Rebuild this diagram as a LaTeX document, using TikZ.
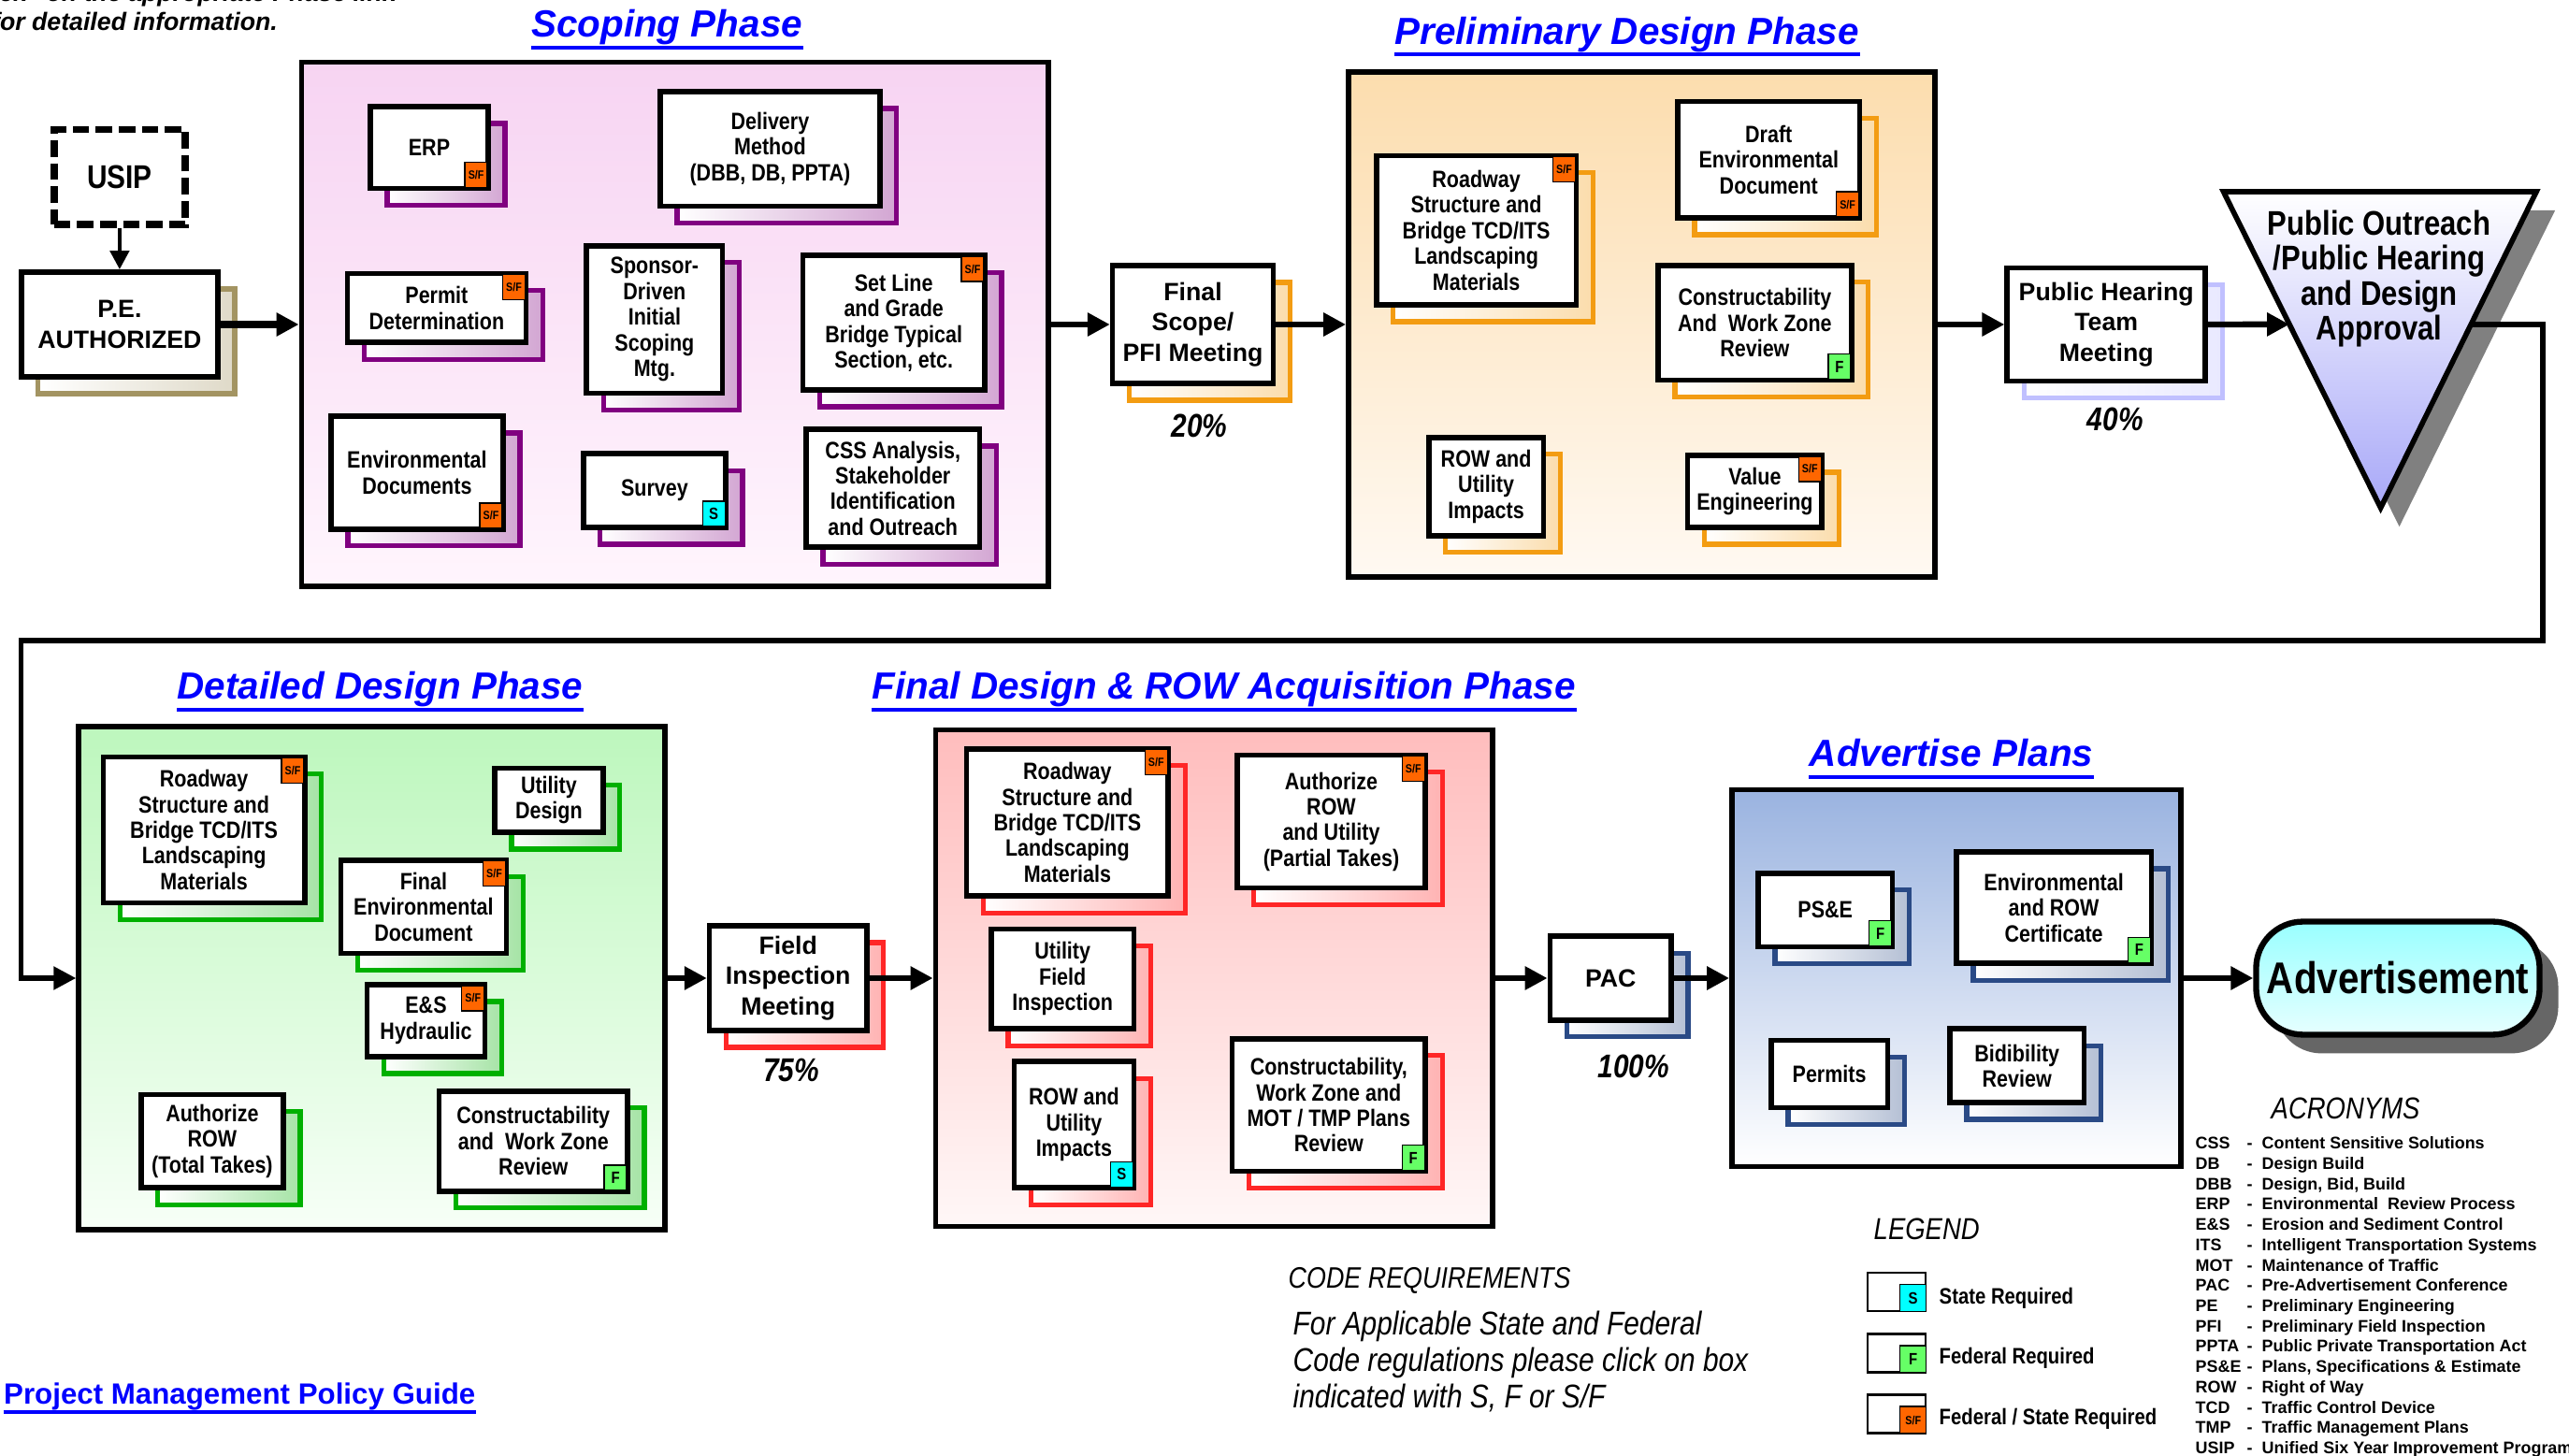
\documentclass[tikz,border=0pt]{standalone}
\usepackage{fontspec}
\setmainfont{Liberation Sans}
\newfontfamily\narrowfont{Liberation Sans}[FakeStretch=0.85]
\usetikzlibrary{arrows.meta,shadows,calc}

\definecolor{linkblue}{HTML}{0000FF}
\definecolor{sfcol}{HTML}{FF6600}
\definecolor{scol}{HTML}{00FFFF}
\definecolor{fcol}{HTML}{66FF66}
\definecolor{scopeshd}{HTML}{800080}
\definecolor{prelimshd}{HTML}{F39C12}
\definecolor{detailshd}{HTML}{00B000}
\definecolor{finalshd}{HTML}{FF2626}
\definecolor{advshd}{HTML}{2A4A86}
\definecolor{peshd}{HTML}{A39462}
\definecolor{hearshd}{HTML}{C0C0FF}
\definecolor{scopetop}{HTML}{F7D4F2}
\definecolor{scopebot}{HTML}{FFF5FD}
\definecolor{prelimtop}{HTML}{FCDDAE}
\definecolor{prelimbot}{HTML}{FFF9F2}
\definecolor{detailtop}{HTML}{BDF7BD}
\definecolor{detailbot}{HTML}{F7FFF7}
\definecolor{finaltop}{HTML}{FFBDBD}
\definecolor{finalbot}{HTML}{FFF7F7}
\definecolor{advtop}{HTML}{9AB3E0}
\definecolor{advbot}{HTML}{FFFFFF}
\definecolor{trilow}{HTML}{A8A8F8}
\definecolor{termtop}{HTML}{99FFFF}
\definecolor{termbot}{HTML}{E6FFFF}

\tikzset{
  task/.style={draw, line width=1.6pt, fill=white, align=center, inner sep=1pt,
    font=\narrowfont\bfseries\fontsize{7.2}{7.8}\selectfont,
    general shadow={shadow xshift=0.18cm, shadow yshift=-0.18cm, draw=#1,
      line width=1.5pt, left color=white, right color=#1!35}},
  stage/.style={task=#1, font=\bfseries\fontsize{7.6}{9.2}\selectfont},
  phase/.style 2 args={draw, line width=1.6pt, inner sep=0pt, top color=#1, bottom color=#2},
  phasetitle/.style={inner sep=0pt, anchor=base, text depth=0.1cm, text=linkblue,
    font=\bfseries\itshape\fontsize{11.5}{12}\selectfont},
  badge/.style={draw, line width=0.4pt, fill=#1, inner sep=0pt, minimum width=0.24cm,
    minimum height=0.27cm, font=\narrowfont\bfseries\fontsize{5}{5}\selectfont},
  sfbadge/.style={badge=sfcol, font=\narrowfont\bfseries\fontsize{3.6}{3.6}\selectfont},
  tucked ne/.style={anchor=north east, xshift=-0.03cm, yshift=-0.03cm},
  tucked se/.style={anchor=south east, xshift=-0.03cm, yshift=0.03cm},
  flow/.style={line width=1.8pt, -{Triangle[length=0.24cm, width=0.24cm]}},
  pct/.style={font=\narrowfont\bfseries\itshape\fontsize{10}{10}\selectfont},
  legendbox/.style={draw, line width=0.8pt, fill=white, inner sep=0pt,
    minimum width=0.62cm, minimum height=0.41cm},
  legendtext/.style={anchor=west, inner sep=0pt, font=\narrowfont\bfseries\fontsize{6.8}{7}\selectfont},
  heading/.style={inner sep=0pt, anchor=base west, font=\narrowfont\itshape\fontsize{9.2}{9.2}\selectfont},
}

\begin{document}
\begin{tikzpicture}[y=-1cm]
\useasboundingbox (0,0) rectangle (27.47,15.57);

% header note
\node[inner sep=0pt, anchor=south, align=center, font=\bfseries\itshape\fontsize{7.6}{8.8}\selectfont]
  (note) at (1.44,0.33) {Please ``click'' on the appropriate Phase link\\for detailed information.};

% phase boxes
\node[phase={scopetop}{scopebot}, minimum width=7.989cm, minimum height=5.606cm] (scoping) at (7.218,3.47) {};
\node[phase={prelimtop}{prelimbot}, minimum width=6.272cm, minimum height=5.396cm] (prelim) at (17.555,3.47) {};
\node[phase={detailtop}{detailbot}, minimum width=6.272cm, minimum height=5.379cm] (detailed) at (3.977,10.46) {};
\node[phase={finaltop}{finalbot}, minimum width=5.957cm, minimum height=5.309cm] (finaldes) at (12.982,10.46) {};
\node[phase={advtop}{advbot}, minimum width=4.8cm, minimum height=4.029cm] (advert) at (20.919,10.46) {};

\node[phasetitle] (scopetitle) at (7.131,0.40) {Scoping Phase};
\node[phasetitle] (prelimtitle) at (17.397,0.473) {Preliminary Design Phase};
\node[phasetitle] (detailtitle) at (4.065,7.48) {Detailed Design Phase};
\node[phasetitle] (finaltitle) at (13.087,7.48) {Final Design \& ROW Acquisition Phase};
\node[phasetitle] (advtitle) at (20.866,8.20) {Advertise Plans};

% start
\node[draw, line width=2.2pt, dash pattern=on 5pt off 2pt, fill=white, minimum width=1.402cm,
  minimum height=1.016cm, font=\narrowfont\bfseries\fontsize{10}{10}\selectfont] (usip) at (1.279,1.892) {USIP};
\node[stage=peshd, minimum width=2.102cm, minimum height=1.121cm] (pe) at (1.279,3.47) {P.E.\\AUTHORIZED};

% scoping phase
\node[task=scopeshd, minimum width=1.261cm, minimum height=0.876cm] (erp) at (4.590,1.577) {ERP};
\node[sfbadge, tucked se] (erpb) at (erp.south east) {S/F};
\node[task=scopeshd, minimum width=2.348cm, minimum height=1.226cm] (delivery) at (8.234,1.594) {Delivery\\Method\\(DBB, DB, PPTA)};
\node[task=scopeshd, minimum width=1.910cm, minimum height=0.736cm] (permit) at (4.669,3.294) {Permit\\Determination};
\node[sfbadge, tucked ne] (permitb) at (permit.north east) {S/F};
\node[task=scopeshd, minimum width=1.454cm, minimum height=1.577cm] (sponsor) at (6.999,3.416) {Sponsor-\\Driven\\Initial\\Scoping\\Mtg.};
\node[task=scopeshd, minimum width=1.945cm, minimum height=1.437cm] (setline) at (9.557,3.451) {Set Line\\and Grade\\Bridge Typical\\Section, etc.};
\node[sfbadge, tucked ne] (setlineb) at (setline.north east) {S/F};
\node[task=scopeshd, minimum width=1.840cm, minimum height=1.209cm] (envdocs) at (4.459,5.054) {Environmental\\Documents};
\node[sfbadge, tucked se] (envdocsb) at (envdocs.south east) {S/F};
\node[task=scopeshd, minimum width=1.524cm, minimum height=0.788cm] (survey) at (6.999,5.247) {Survey};
\node[badge=scol, tucked se] (surveyb) at (survey.south east) {S};
\node[task=scopeshd, minimum width=1.857cm, minimum height=1.262cm] (css) at (9.548,5.221) {CSS Analysis,\\Stakeholder\\Identification\\and Outreach};

\node[stage=prelimshd, minimum width=1.717cm, minimum height=1.261cm] (finalscope) at (12.755,3.47) {Final\\Scope/\\PFI Meeting};
\node[pct] (pct20) at (12.825,4.555) {20\%};

% preliminary design phase
\node[task=prelimshd, minimum width=2.137cm, minimum height=1.595cm] (roadway1) at (15.786,2.462) {Roadway\\Structure and\\Bridge TCD/ITS\\Landscaping\\Materials};
\node[sfbadge, tucked ne] (roadway1b) at (roadway1.north east) {S/F};
\node[task=prelimshd, minimum width=1.945cm, minimum height=1.244cm] (draftenv) at (18.913,1.708) {Draft\\Environmental\\Document};
\node[sfbadge, tucked se] (draftenvb) at (draftenv.south east) {S/F};
\node[task=prelimshd, minimum width=2.068cm, minimum height=1.227cm] (constr1) at (18.764,3.451) {Constructability\\And~ Work Zone\\Review};
\node[badge=fcol, tucked se] (constr1b) at (constr1.south east) {F};
\node[task=prelimshd, minimum width=1.227cm, minimum height=1.051cm] (rowimp1) at (15.891,5.203) {ROW and\\Utility\\Impacts};
\node[task=prelimshd, minimum width=1.436cm, minimum height=0.770cm] (valueeng) at (18.764,5.256) {Value\\Engineering};
\node[sfbadge, tucked ne] (valueengb) at (valueeng.north east) {S/F};

\node[stage=hearshd, minimum width=2.120cm, minimum height=1.209cm] (hearing) at (22.522,3.47) {Public Hearing\\Team\\Meeting};
\node[pct] (pct40) at (22.618,4.485) {40\%};

% approval triangle
\coordinate (tritl) at (23.775,2.05);
\coordinate (tritr) at (27.121,2.05);
\coordinate (triapex) at (25.456,5.431);
\fill[black!50] ([shift={(0.2,0.2)}]tritl) -- ([shift={(0.2,0.2)}]tritr) -- ([shift={(0.2,0.2)}]triapex) -- cycle;
\path[draw, line width=1.6pt, top color=white, bottom color=trilow] (tritl) -- (tritr) -- (triapex) -- cycle;
\node[align=center, font=\narrowfont\bfseries\fontsize{10.4}{10.6}\selectfont] (approval) at (25.44,2.98) {Public Outreach\\/Public Hearing\\and Design\\Approval};
\coordinate (trin) at ($(tritl)!0.4197!(triapex)$);
\coordinate (trout) at ($(tritr)!0.4197!(triapex)$);
\coordinate (turnne) at (27.19,6.85);
\coordinate (turnnw) at (0.228,6.85);

% detailed design phase
\node[task=detailshd, minimum width=2.155cm, minimum height=1.560cm] (roadway2) at (2.181,8.874) {Roadway\\Structure and\\Bridge TCD/ITS\\Landscaping\\Materials};
\node[sfbadge, tucked ne] (roadway2b) at (roadway2.north east) {S/F};
\node[task=detailshd, minimum width=1.156cm, minimum height=0.683cm] (utildes) at (5.869,8.558) {Utility\\Design};
\node[task=detailshd, minimum width=1.770cm, minimum height=0.999cm] (finalenv) at (4.529,9.697) {Final\\Environmental\\Document};
\node[sfbadge, tucked ne] (finalenvb) at (finalenv.north east) {S/F};
\node[task=detailshd, minimum width=1.262cm, minimum height=0.770cm] (ehyd) at (4.555,10.915) {E\&S\\Hydraulic};
\node[sfbadge, tucked ne] (ehydb) at (ehyd.north east) {S/F};
\node[task=detailshd, minimum width=1.524cm, minimum height=0.999cm] (authrow1) at (2.269,12.203) {Authorize\\ROW\\(Total Takes)};
\node[task=detailshd, minimum width=2.015cm, minimum height=1.069cm] (constr2) at (5.703,12.203) {Constructability\\and~ Work Zone\\Review};
\node[badge=fcol, tucked se] (constr2b) at (constr2.south east) {F};

\node[stage=finalshd, minimum width=1.682cm, minimum height=1.122cm] (field) at (8.427,10.46) {Field\\Inspection\\Meeting};
\node[pct] (pct75) at (8.462,11.44) {75\%};

% final design and ROW acquisition phase
\node[task=finalshd, minimum width=2.155cm, minimum height=1.576cm] (roadway3) at (11.414,8.795) {Roadway\\Structure and\\Bridge TCD/ITS\\Landscaping\\Materials};
\node[sfbadge, tucked ne] (roadway3b) at (roadway3.north east) {S/F};
\node[task=finalshd, minimum width=2.014cm, minimum height=1.419cm] (authrow2) at (14.235,8.786) {Authorize\\ROW\\and Utility\\(Partial Takes)};
\node[sfbadge, tucked ne] (authrow2b) at (authrow2.north east) {S/F};
\node[task=finalshd, minimum width=1.524cm, minimum height=1.069cm] (utilfield) at (11.362,10.468) {Utility\\Field\\Inspection};
\node[task=finalshd, minimum width=1.279cm, minimum height=1.349cm] (rowimp2) at (11.484,12.027) {ROW and\\Utility\\Impacts};
\node[badge=scol, tucked se] (rowimp2b) at (rowimp2.south east) {S};
\node[task=finalshd, minimum width=2.067cm, minimum height=1.419cm] (constr3) at (14.208,11.817) {Constructability,\\Work Zone and\\MOT / TMP Plans\\Review};
\node[badge=fcol, tucked se] (constr3b) at (constr3.south east) {F};

\node[stage=advshd, minimum width=1.296cm, minimum height=0.894cm] (pac) at (17.222,10.46) {PAC};
\node[pct] (pct100) at (17.467,11.405) {100\%};

% advertise plans
\node[task=advshd, minimum width=1.437cm, minimum height=0.789cm] (pse) at (19.517,9.732) {PS\&E};
\node[badge=fcol, tucked se] (pseb) at (pse.south east) {F};
\node[task=advshd, minimum width=2.085cm, minimum height=1.192cm] (envrow) at (21.961,9.706) {Environmental\\and ROW\\Certificate};
\node[badge=fcol, tucked se] (envrowb) at (envrow.south east) {F};
\node[task=advshd, minimum width=1.244cm, minimum height=0.719cm] (permits) at (19.561,11.484) {Permits};
\node[task=advshd, minimum width=1.436cm, minimum height=0.788cm] (bidib) at (21.567,11.397) {Bidibility\\Review};

\node[draw, line width=1.8pt, rounded corners=0.5cm, inner sep=1pt, minimum width=3.031cm, minimum height=1.209cm,
  top color=termtop, bottom color=termbot, general shadow={shadow xshift=0.2cm, shadow yshift=-0.2cm, fill=black!60},
  font=\narrowfont\bfseries\fontsize{13.5}{13.5}\selectfont] (advertisement) at (25.64,10.46) {Advertisement};

% connectors
\draw[line width=1.3pt, -{Triangle[length=0.2cm, width=0.2cm]}] (usip) -- (pe);
\draw[flow, line width=2.2pt] (pe) -- (scoping);
\draw[flow] (scoping) -- (finalscope);
\draw[flow] (finalscope) -- (prelim);
\draw[flow] (prelim) -- (hearing);
\draw[flow] (hearing) -- (trin);
\draw[flow, line width=1.5pt] (trout) -| (turnne) -- (turnnw) |- (detailed);
\draw[flow] (detailed) -- (field);
\draw[flow] (field) -- (finaldes);
\draw[flow] (finaldes) -- (pac);
\draw[flow] (pac) -- (advert);
\draw[flow] (advert) -- (advertisement);

% legend
\node[heading] (legendhead) at (20.03,13.26) {LEGEND};
\node[legendbox] (legs) at (20.28,13.815) {};
\node[badge=scol, minimum width=0.28cm, minimum height=0.29cm, anchor=south east] (legsb) at (legs.south east) {S};
\node[legendtext] (legstext) at (20.73,13.88) {State Required};
\node[legendbox] (legf) at (20.28,14.47) {};
\node[badge=fcol, minimum width=0.28cm, minimum height=0.29cm, anchor=south east] (legfb) at (legf.south east) {F};
\node[legendtext] (legftext) at (20.73,14.52) {Federal Required};
\node[legendbox] (legsf) at (20.28,15.12) {};
\node[sfbadge, minimum width=0.28cm, minimum height=0.29cm, anchor=south east] (legsfb) at (legsf.south east) {S/F};
\node[legendtext] (legsftext) at (20.73,15.17) {Federal / State Required};

% code requirements
\node[heading, font=\narrowfont\itshape\fontsize{9}{9}\selectfont] (codehead) at (13.77,13.78) {CODE REQUIREMENTS};
\node[inner sep=0pt, anchor=north west, align=left, font=\narrowfont\itshape\fontsize{10}{11.1}\selectfont]
  (codetext) at (13.82,14.01) {For Applicable State and Federal\\Code regulations please click on box\\indicated with S, F or S/F};

% acronyms
\node[heading] (acrohead) at (24.28,11.97) {ACRONYMS};
\node[inner sep=0pt, anchor=north west, align=left, font=\bfseries\fontsize{5.1}{6.18}\selectfont] (acrolist) at (23.47,12.15) {%
\makebox[0.55cm][l]{CSS}-\hspace{0.1cm}Content Sensitive Solutions\\
\makebox[0.55cm][l]{DB}-\hspace{0.1cm}Design Build\\
\makebox[0.55cm][l]{DBB}-\hspace{0.1cm}Design, Bid, Build\\
\makebox[0.55cm][l]{ERP}-\hspace{0.1cm}Environmental~ Review Process\\
\makebox[0.55cm][l]{E\&S}-\hspace{0.1cm}Erosion and Sediment Control\\
\makebox[0.55cm][l]{ITS}-\hspace{0.1cm}Intelligent Transportation Systems\\
\makebox[0.55cm][l]{MOT}-\hspace{0.1cm}Maintenance of Traffic\\
\makebox[0.55cm][l]{PAC}-\hspace{0.1cm}Pre-Advertisement Conference\\
\makebox[0.55cm][l]{PE}-\hspace{0.1cm}Preliminary Engineering\\
\makebox[0.55cm][l]{PFI}-\hspace{0.1cm}Preliminary Field Inspection\\
\makebox[0.55cm][l]{PPTA}-\hspace{0.1cm}Public Private Transportation Act\\
\makebox[0.55cm][l]{PS\&E}-\hspace{0.1cm}Plans, Specifications \& Estimate\\
\makebox[0.55cm][l]{ROW}-\hspace{0.1cm}Right of Way\\
\makebox[0.55cm][l]{TCD}-\hspace{0.1cm}Traffic Control Device\\
\makebox[0.55cm][l]{TMP}-\hspace{0.1cm}Traffic Management Plans\\
\makebox[0.55cm][l]{USIP}-\hspace{0.1cm}Unified Six Year Improvement Program};

% guide link
\node[inner sep=0pt, anchor=base west, text depth=0.07cm, text=linkblue, font=\bfseries\fontsize{8.9}{9}\selectfont]
  (pmguide) at (0.035,15.02) {Project Management Policy Guide};

\foreach \t in {scopetitle, prelimtitle, detailtitle, finaltitle, advtitle, pmguide}
  \draw[linkblue, line width=1.1pt] (\t.south west) -- (\t.south east);
\end{tikzpicture}
\end{document}
